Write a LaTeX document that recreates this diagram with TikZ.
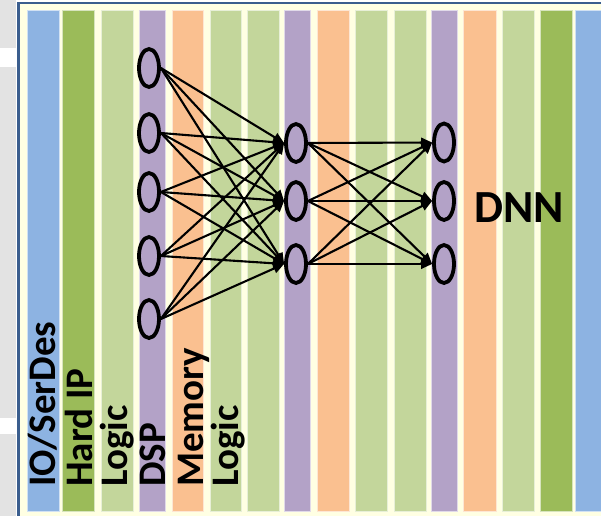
\documentclass[tikz,border=0pt]{standalone}
\usepackage{fontspec}
\setmainfont{Carlito}
\usetikzlibrary{shapes.geometric,arrows.meta}
\definecolor{ioblue}{HTML}{8DB3E2}
\definecolor{hardgreen}{HTML}{9BBB59}
\definecolor{logicgreen}{HTML}{C3D69B}
\definecolor{dsppurple}{HTML}{B3A2C7}
\definecolor{memorange}{HTML}{FAC090}
\definecolor{cream}{HTML}{FFFFE3}
\definecolor{framblue}{HTML}{3B5E8E}
\definecolor{sidegrey}{HTML}{E3E3E3}
\tikzset{
  column/.style={fill=#1, draw=white!60!#1, line width=0.6pt},
  neuron/.style={ellipse, draw=black, line width=3.8pt, minimum width=20pt,
    minimum height=38pt, inner sep=0pt},
  link/.style={line width=2.1pt, -{Triangle[length=11pt,width=9.5pt]}},
  collabel/.style={rotate=90, anchor=base west, inner sep=0pt,
    font=\fontsize{39}{39}\selectfont\bfseries},
}
\begin{document}
\begin{tikzpicture}[x=1pt,y=-1pt]
\useasboundingbox (0,0) rectangle (601,516);
% page surroundings
\fill[white] (0,0) rectangle (601,516);
\fill[sidegrey] (0,0) rectangle (16,516);
\fill[white] (0,48) rectangle (16,67);
\fill[white] (0,418) rectangle (16,434);
% chip frame
\fill[cream] (17.3,2) rectangle (601,516);
\fill[framblue] (17.3,1.8) rectangle (601,4);
\fill[framblue] (17.3,1.8) rectangle (19.7,516);
% fabric columns
\foreach \xa/\xb/\c in {
  27.3/59/ioblue, 62.3/94/hardgreen, 101/133/logicgreen, 139.3/165/dsppurple,
  172/203.3/memorange, 210/241.7/logicgreen, 247.3/279.3/logicgreen,
  284.3/310/dsppurple, 317/349/memorange, 355/387/logicgreen,
  394/426/logicgreen, 431.3/457/dsppurple, 463.3/496/memorange,
  502.3/534/logicgreen, 540.7/572.3/hardgreen, 575.7/606/ioblue}
  \draw[column=\c] (\xa,10) rectangle (\xb,511);
% column labels
\node[collabel] (lio)  at (55,487)  {IO/SerDes};
\node[collabel] (lhip) at (92,487)  {Hard IP};
\node[collabel] (llg1) at (127,487) {Logic};
\node[collabel] (ldsp) at (165,487) {DSP};
\node[collabel] (lmem) at (203,487) {Memory};
\node[collabel] (llg2) at (238,487) {Logic};
% network
\foreach \i/\y in {1/68,2/133,3/192,4/256,5/319}
  \node[neuron] (in\i) at (149,\y) {};
\foreach \i/\y in {1/143,2/201,3/264}
  \node[neuron] (hid\i) at (296,\y) {};
\foreach \i/\y in {1/142.5,2/201,3/264}
  \node[neuron] (out\i) at (444,\y) {};
\foreach \i in {1,...,5}
  \foreach \j in {1,2,3}
    \draw[link] (in\i.east) -- (hid\j.west);
\foreach \i in {1,2,3}
  \foreach \j in {1,2,3}
    \draw[link] (hid\i.east) -- (out\j.west);
\node[anchor=base west, inner sep=0pt, font=\fontsize{46}{46}\selectfont\bfseries]
  (dnn) at (474,222) {DNN};
\end{tikzpicture}
\end{document}
